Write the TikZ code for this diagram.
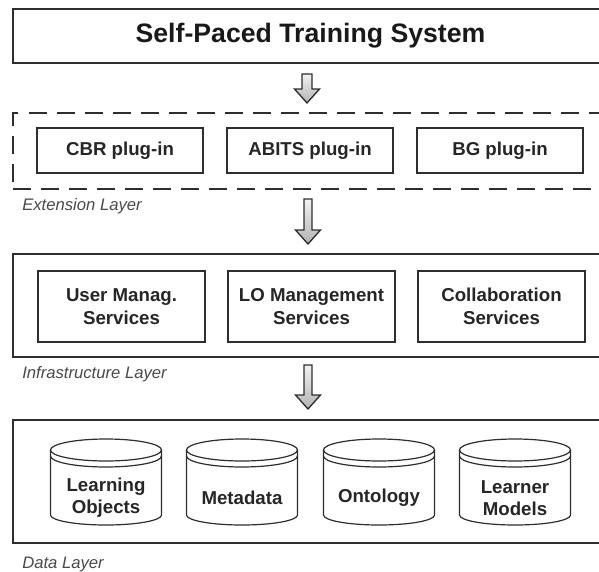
\documentclass[tikz,border=0pt]{standalone}
\usepackage{fontspec}
\setmainfont{Liberation Sans}
\usetikzlibrary{calc,positioning}

\definecolor{framegray}{HTML}{2E2E2E}
\definecolor{labelgray}{HTML}{4A4A4A}

\tikzset{
  layer/.style={draw=framegray, line width=1.5pt, fill=white, minimum width=446pt, inner sep=0pt},
  unitbox/.style={draw=framegray, solid, line width=1.5pt, fill=white, inner sep=0pt, align=center,
    text=black!85, font=\bfseries\fontsize{14}{17}\selectfont},
  plugbox/.style={unitbox, minimum width=125pt, minimum height=33.75pt},
  servicebox/.style={unitbox, minimum width=125pt, minimum height=53.25pt},
  layerlabel/.style={anchor=base west, inner sep=0pt, text=labelgray,
    font=\itshape\fontsize{12.5}{15}\selectfont},
  dbline/.style={draw=framegray, line width=0.9pt},
  dbtext/.style={align=center, inner sep=0pt, text=black!85, font=\bfseries\fontsize{14}{16.5}\selectfont},
  blockarr/.style={draw=framegray, line width=1pt, top color=gray!10, bottom color=gray!60}
}

% hollow block arrow: #1 tail, #2 tip, #3 head length, #4 half shaft
\newcommand{\layerarrow}[4]{%
  \draw[blockarr] ($(#1)+(-#4,0)$) -- ($(#1)+(#4,0)$) -- ($(#2)+(#4,#3)$)
    -- ($(#2)+(12.5,#3)$) -- (#2) -- ($(#2)+(-12.5,#3)$) -- ($(#2)+(-#4,#3)$) -- cycle;}

% database cylinder: #1 name, #2 x centre, #3 text
\newcommand{\datastore}[3]{%
  \draw[dbline, fill=white] (#2-55.5,-450) -- (#2-55.5,-515)
    arc[start angle=180, end angle=360, x radius=55.5, y radius=10] -- (#2+55.5,-450);
  \draw[dbline] (#2,-450) ellipse[x radius=55.5, y radius=11];
  \draw[dbline] (#2-55.5,-456) arc[start angle=180, end angle=360, x radius=55.5, y radius=11];
  \node[dbtext] (#1) at (#2,-498) {#3};}

\begin{document}
\begin{tikzpicture}[x=0.75pt, y=0.75pt]
  \useasboundingbox (0,0) rectangle (599,-571);
  \clip (0,0) rectangle (599,-571);

  % top system
  \node[layer, minimum height=40.5pt, text=black!90,
    font=\bfseries\fontsize{20}{24}\selectfont] (title) at (310.5,-36) {Self-Paced Training System};

  % extension layer
  \node[layer, dash pattern=on 13.5pt off 7.5pt, minimum height=57pt] (extlayer) at (310.5,-151) {};
  \node[plugbox] (abits) at (310,-150.5) {ABITS plug-in};
  \node[plugbox, left=16pt of abits] (cbr) {CBR plug-in};
  \node[plugbox, right=16pt of abits] (bg) {BG plug-in};
  \node[layerlabel] (extlabel) at (22,-210) {Extension Layer};

  % infrastructure layer
  \node[layer, minimum height=77.25pt] (infralayer) at (310.5,-305.5) {};
  \node[servicebox] (lomgmt) at (311.5,-306.5) {LO Management\\Services};
  \node[servicebox, left=16pt of lomgmt] (usermgmt) {User Manag.\\Services};
  \node[servicebox, right=16pt of lomgmt] (collab) {Collaboration\\Services};
  \node[layerlabel] (infralabel) at (22,-378) {Infrastructure Layer};

  % data layer
  \node[layer, minimum height=92.25pt] (datalayer) at (310.5,-481.5) {};
  \datastore{lobjects}{106}{Learning\\Objects}
  \datastore{metadata}{242}{Metadata}
  \datastore{ontology}{379}{Ontology}
  \datastore{learnermodels}{515}{Learner\\Models}
  \node[layerlabel] (datalabel) at (22,-568) {Data Layer};

  % arrows between the layers
  \coordinate (a1tail) at (307,-74);
  \coordinate (a1tip) at (307,-103);
  \coordinate (a2tail) at (308,-199);
  \coordinate (a2tip) at (308,-244);
  \coordinate (a3tail) at (308,-365);
  \coordinate (a3tip) at (308,-409);
  \layerarrow{a1tail}{a1tip}{14}{5}
  \layerarrow{a2tail}{a2tip}{14}{4}
  \layerarrow{a3tail}{a3tip}{14}{4}
\end{tikzpicture}
\end{document}
